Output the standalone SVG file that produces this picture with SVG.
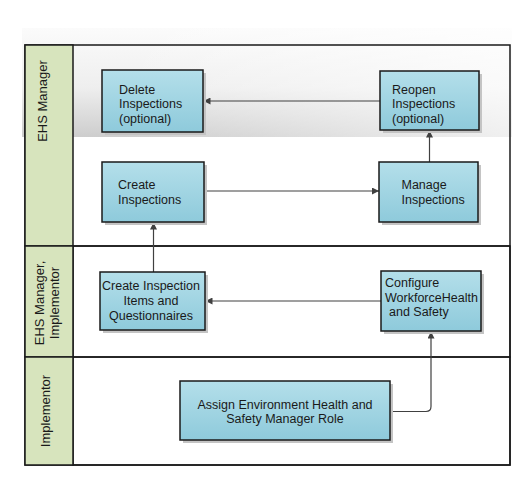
<svg xmlns="http://www.w3.org/2000/svg" width="530" height="491" viewBox="0 0 530 491">
<defs>
<linearGradient id="lanegrad" x1="0" y1="0" x2="0" y2="1">
<stop offset="0" stop-color="#fbfbfb"/>
<stop offset="0.55" stop-color="#eeeeee"/>
<stop offset="1" stop-color="#cdcdcd"/>
</linearGradient>
<linearGradient id="fadeh" x1="0" y1="0" x2="1" y2="0">
<stop offset="0.2" stop-color="#ffffff" stop-opacity="0"/>
<stop offset="1" stop-color="#ffffff" stop-opacity="0.7"/>
</linearGradient>
<linearGradient id="nodegrad" x1="0" y1="0" x2="0" y2="1">
<stop offset="0" stop-color="#b4dfea"/>
<stop offset="1" stop-color="#8ecadb"/>
</linearGradient>
<marker id="arr" viewBox="0 0 10 10" refX="10" refY="5" markerWidth="7" markerHeight="7" markerUnits="userSpaceOnUse" orient="auto">
<path d="M0,0 L10,5 L0,10 z" fill="#404040"/>
</marker>
</defs>
<style>
.lbl{fill:#d7e4bd;stroke:#1a1a1a;stroke-width:1.5}
.lane{fill:none;stroke:#1a1a1a;stroke-width:1.5}
.shadow{fill:#c4c4c4}
.box{fill:url(#nodegrad);stroke:#1a1a1a;stroke-width:1.5}
text{font-family:"Liberation Sans",Arial,sans-serif;font-size:12.5px;fill:#1a1a1a}
.lt{font-size:13px}
.conn{fill:none;stroke:#404040;stroke-width:1.2;marker-end:url(#arr)}
</style>
<rect width="530" height="491" fill="#ffffff"/>
<g id="background">
<rect x="22" y="28" width="490" height="109" fill="url(#lanegrad)"/>
<rect x="22" y="28" width="490" height="109" fill="url(#fadeh)"/>
</g>
<g id="lanes">
<rect x="73" y="137" width="437" height="109" fill="#ffffff"/>
<rect x="73" y="246" width="437" height="111" fill="#ffffff" class="lane"/>
<rect x="73" y="357" width="437" height="108" fill="#ffffff" class="lane"/>
<rect x="25" y="45" width="485" height="420" class="lane"/>
<line x1="73" y1="246" x2="510" y2="246" class="lane"/>
</g>
<g id="lane-ehs-manager">
<rect x="25" y="45" width="48" height="201" class="lbl"/>
<text class="lt" transform="translate(46.5,101) rotate(-90)" text-anchor="middle">EHS Manager</text>
</g>
<g id="lane-ehs-implementor">
<rect x="25" y="246" width="48" height="111" class="lbl"/>
<text class="lt" transform="translate(44.3,303) rotate(-90)" text-anchor="middle">EHS Manager,</text>
<text class="lt" transform="translate(59.3,303) rotate(-90)" text-anchor="middle">Implementor</text>
</g>
<g id="lane-implementor">
<rect x="25" y="357" width="48" height="108" class="lbl"/>
<text class="lt" transform="translate(50,411) rotate(-90)" text-anchor="middle">Implementor</text>
</g>
<g id="connectors">
<line x1="380" y1="101" x2="203.5" y2="101" class="conn"/>
<line x1="204" y1="191" x2="379" y2="191" class="conn"/>
<line x1="429.5" y1="162" x2="429.5" y2="130.5" class="conn"/>
<line x1="153.5" y1="272" x2="153.5" y2="222.5" class="conn"/>
<line x1="381" y1="301" x2="205.5" y2="301" class="conn"/>
<path d="M390,411.5 H426 Q431,411.5 431,406.5 V331.5" class="conn"/>
</g>
<g id="node-delete">
<rect x="105" y="73" width="101" height="62" class="shadow"/>
<rect x="102" y="70" width="101" height="62" class="box"/>
<text x="119" y="93.5">Delete</text>
<text x="119" y="108.2">Inspections</text>
<text x="119" y="123">(optional)</text>
</g>
<g id="node-reopen">
<rect x="383" y="74" width="99" height="59" class="shadow"/>
<rect x="380" y="71" width="99" height="59" class="box"/>
<text x="392" y="93.5">Reopen</text>
<text x="392" y="108.2">Inspections</text>
<text x="392" y="123">(optional)</text>
</g>
<g id="node-create">
<rect x="105" y="165" width="102" height="60" class="shadow"/>
<rect x="102" y="162" width="102" height="60" class="box"/>
<text x="118" y="189.3">Create</text>
<text x="118" y="204">Inspections</text>
</g>
<g id="node-manage">
<rect x="382" y="165" width="99" height="60" class="shadow"/>
<rect x="379" y="162" width="99" height="60" class="box"/>
<text x="401.5" y="189.3">Manage</text>
<text x="401.5" y="204">Inspections</text>
</g>
<g id="node-create-items">
<rect x="103" y="275" width="105" height="58" class="shadow"/>
<rect x="100" y="272" width="105" height="58" class="box"/>
<text x="151" y="290" text-anchor="middle">Create Inspection</text>
<text x="151" y="305" text-anchor="middle">Items and</text>
<text x="151" y="319.7" text-anchor="middle">Questionnaires</text>
</g>
<g id="node-configure">
<rect x="384" y="274" width="100" height="60" class="shadow"/>
<rect x="381" y="271" width="100" height="60" class="box"/>
<text x="385" y="286.7">Configure</text>
<text x="385" y="301.7">WorkforceHealth</text>
<text x="389" y="315.5">and Safety</text>
</g>
<g id="node-assign">
<rect x="183" y="384" width="210" height="59" class="shadow"/>
<rect x="180" y="381" width="210" height="59" class="box"/>
<text x="285" y="408.5" text-anchor="middle">Assign Environment Health and</text>
<text x="285" y="422.5" text-anchor="middle">Safety Manager Role</text>
</g>
</svg>
